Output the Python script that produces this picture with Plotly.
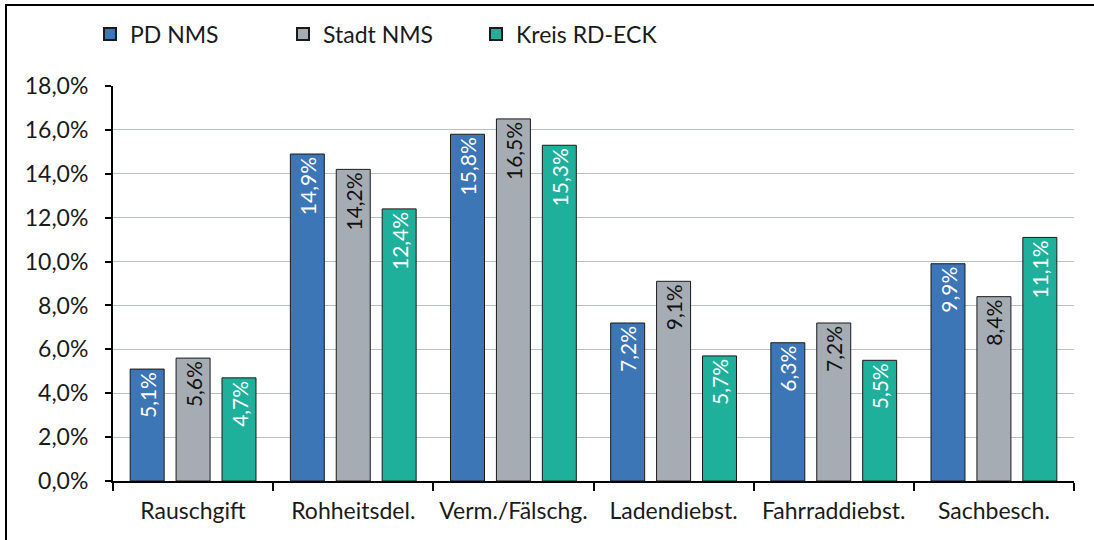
import plotly.graph_objects as go

categories = ["Rauschgift", "Rohheitsdel.", "Verm./Fälschg.", "Ladendiebst.", "Fahrraddiebst.", "Sachbesch."]
pd_nms = [5.1, 14.9, 15.8, 7.2, 6.3, 9.9]
stadt_nms = [5.6, 14.2, 16.5, 9.1, 7.2, 8.4]
kreis_rd_eck = [4.7, 12.4, 15.3, 5.7, 5.5, 11.1]
y_ticks = [0, 2, 4, 6, 8, 10, 12, 14, 16, 18]

FONT = "Lato, 'Open Sans', sans-serif"
W, H = 1094, 540
L, R, T, B = 113, 20, 86, 59
PW, PH = W - L - R, H - T - B


def fmt(v):
    return f"{v:.1f}".replace(".", ",") + "%"


series = [
    ("PD NMS", pd_nms, "#3c76b6", "white"),
    ("Stadt NMS", stadt_nms, "#a6acb4", "#111111"),
    ("Kreis RD-ECK", kreis_rd_eck, "#1fb09b", "white"),
]

fig = go.Figure()
for name, vals, col, tcol in series:
    fig.add_trace(go.Bar(
        x=categories, y=vals, name=name,
        marker=dict(color=col, line=dict(color="#1a1a1a", width=1)),
        text=[fmt(v) for v in vals],
        textposition="inside", insidetextanchor="end", textangle=-90,
        constraintext="none",
        textfont=dict(color=tcol, size=21, family=FONT),
    ))

# frame lines (top and left) like the source image
px = lambda p: (p - L) / PW
py = lambda p: (H - B - p) / PH
fig.add_shape(type="line", xref="paper", yref="paper",
              x0=px(5), x1=px(W), y0=py(5), y1=py(5), line=dict(color="black", width=2))
fig.add_shape(type="line", xref="paper", yref="paper",
              x0=px(6), x1=px(6), y0=py(5), y1=py(H), line=dict(color="black", width=2))

fig.update_layout(
    width=W, height=H,
    margin=dict(l=L, r=R, t=T, b=B),
    paper_bgcolor="white", plot_bgcolor="white",
    font=dict(family=FONT, size=23, color="#1a1a1a"),
    barmode="group", bargap=0.14, bargroupgap=0.26,
    showlegend=True,
    legend=dict(orientation="h", x=px(90), y=py(34), yanchor="middle", xanchor="left",
                entrywidth=148, entrywidthmode="pixels",
                font=dict(size=23, family=FONT), itemsizing="constant",
                traceorder="normal"),
    xaxis=dict(showline=True, linecolor="black", linewidth=2,
               ticks="outside", tickson="boundaries", ticklen=8, tickwidth=2, tickcolor="black",
               ticklabelstandoff=8,
               showgrid=False, tickfont=dict(size=23)),
    yaxis=dict(range=[0, 18], tickvals=y_ticks,
               ticktext=[fmt(v) for v in y_ticks],
               showline=True, linecolor="black", linewidth=2,
               ticks="outside", ticklen=6, tickwidth=2, tickcolor="black",
               ticklabelstandoff=12,
               showgrid=True, gridcolor="#b8bfca", gridwidth=1,
               zeroline=False, tickfont=dict(size=23)),
)

# drop the default body margin so the figure fills the window exactly
fig.write_html("out.html", config={"displayModeBar": False},
               post_script="document.body.style.margin='0';")
